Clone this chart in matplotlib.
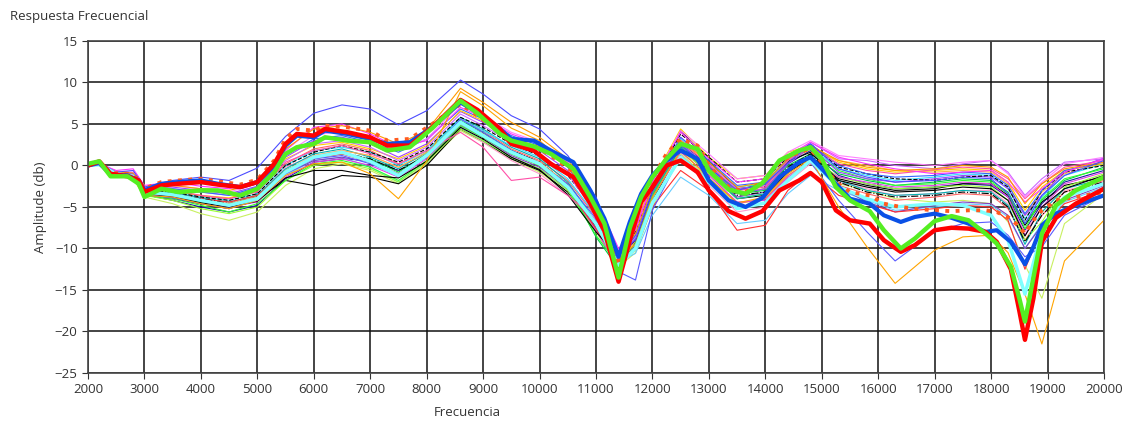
import matplotlib
matplotlib.use('Agg')
import matplotlib.pyplot as plt

plt.rcParams['font.family'] = ['Open Sans', 'DejaVu Sans']

# frequency grid used by the thin traces
freq = [2000, 2200, 2500, 2800, 3000, 3500, 4000, 4500, 5000, 5500,
        6000, 6500, 7000, 7500, 8000, 8600, 9000, 9500, 10000, 10500,
        11000, 11400, 11700, 12000, 12500, 13000, 13500, 14000, 14400, 14800,
        15300, 15800, 16300, 17000, 17500, 18000, 18300, 18600, 18900, 19300, 20000]

thin_blue1 = [0.0, 0.3, -0.8, -0.6, -2.6, -1.8, -1.4, -1.8, -0.3, 3.5, 6.3, 7.3, 6.8, 4.9, 6.6, 10.3, 8.6, 6.0, 4.4, 1.2,
              -3.8, -10.5, -9.0, -3.2, 2.4, -0.2, -3.0, -2.2, 0.3, 2.6, -0.4, -1.4, -2.0, -1.8, -1.4, -1.6, -3.4, -7.0, -3.6, -1.2, 0.6]
thin_orange1 = [0.0, 0.1, -1.2, -1.5, -3.6, -3.8, -4.6, -5.2, -4.2, -1.2, 0.2, 0.4, -1.0, -4.0, 0.5, 8.9, 7.2, 4.5, 3.0, 0.0,
                -4.8, -11.2, -9.5, -3.8, 1.8, -1.5, -4.5, -3.8, -1.0, 0.8, -5.0, -9.8, -14.2, -10.2, -8.6, -8.4, -10.5, -15.5, -21.5, -11.5, -6.6]
thin_magenta = [0.0, 0.2, -0.6, -0.4, -2.4, -2.0, -2.5, -2.8, -1.8, 1.8, 4.6, 5.0, 3.8, 2.2, 3.0, 7.0, 5.8, 3.8, 2.6, 0.4,
                -4.0, -10.0, -7.8, -2.0, 4.0, 0.8, -2.0, -1.6, 1.2, 2.8, 1.0, 0.2, -0.4, -1.0, -0.8, -0.6, -2.0, -4.4, -2.8, -0.8, 0.8]
thin_cyan = [0.0, 0.1, -1.0, -1.3, -3.2, -3.5, -4.2, -4.8, -4.0, -0.8, 1.0, 1.6, 0.5, -1.2, 1.2, 5.2, 3.6, 1.6, 0.2, -2.6,
             -7.0, -12.0, -10.0, -4.5, 1.0, -2.0, -5.2, -4.5, -1.8, 0.6, -2.6, -4.0, -5.0, -4.6, -4.8, -6.0, -9.0, -15.5, -8.0, -3.8, -2.2]
thin_black1 = [0.0, 0.2, -1.3, -1.2, -3.4, -3.8, -4.5, -5.0, -4.3, -1.5, -0.6, -0.6, -1.2, -1.5, 0.5, 4.6, 3.2, 1.0, -0.5, -3.5,
               -8.0, -11.0, -9.0, -3.0, 4.2, 0.5, -2.8, -2.4, 0.5, 1.6, -1.8, -2.6, -3.2, -3.0, -2.6, -2.8, -4.2, -8.5, -5.0, -2.8, -1.2]
thin_pink = [0.0, 0.2, -0.9, -1.1, -2.9, -3.0, -3.6, -4.0, -3.2, 0.4, 1.8, 2.4, 1.4, 0.2, 1.8, 4.0, 2.2, -1.8, -1.4, -3.6,
             -6.5, -10.4, -7.5, -2.2, 3.0, 0.0, -3.0, -2.6, 0.6, 2.2, 0.2, -0.6, -1.0, -0.5, -0.2, -0.4, -1.6, -4.0, -2.2, -0.2, 0.6]
thin_purple = [0.0, 0.3, -0.7, -0.9, -2.7, -2.6, -3.0, -3.4, -2.5, 1.0, 3.0, 3.4, 2.6, 1.0, 2.6, 6.5, 5.2, 3.2, 1.8, -0.6,
               -5.0, -11.5, -8.8, -2.8, 2.6, -0.2, -3.4, -2.8, 0.2, 2.2, -0.8, -1.6, -2.0, -1.6, -1.2, -1.4, -2.8, -6.0, -3.6, -0.8, 0.9]
thin_lime = [0.0, 0.1, -1.1, -1.4, -3.6, -4.0, -4.8, -5.6, -4.6, -1.8, 0.2, 0.6, -0.2, -1.8, 0.6, 4.8, 3.4, 1.4, 0.0, -2.8,
             -8.4, -12.0, -8.6, -3.4, 2.4, -0.4, -3.0, -2.0, 0.8, 2.0, -0.6, -1.6, -2.4, -2.2, -1.8, -2.0, -3.4, -7.6, -4.0, -1.6, -0.4]
thin_yellowgreen = [0.0, 0.0, -1.3, -1.6, -3.8, -4.6, -5.8, -6.6, -5.6, -2.4, -0.4, 0.2, -0.6, -2.2, 0.2, 4.2, 2.8, 0.8, -0.8, -3.2,
                    -8.0, -12.2, -10.5, -5.0, 1.4, -1.6, -4.6, -4.0, -1.2, 0.4, -2.2, -3.0, -4.0, -4.4, -4.2, -4.6, -6.8, -12.0, -16.0, -7.0, -3.4]
thin_dkblue = [0.0, 0.2, -1.2, -1.3, -3.5, -4.2, -5.0, -5.6, -4.8, -1.6, 0.4, 0.8, 0.6, -0.6, 1.0, 5.0, 3.6, 1.8, 0.4, -2.4,
               -7.4, -11.8, -8.4, -3.0, 2.8, 0.0, -3.4, -2.8, 0.2, 1.8, -1.2, -2.2, -2.8, -2.6, -2.2, -2.4, -3.8, -7.8, -4.6, -2.0, -0.6]
thin_orange2 = [0.0, 0.2, -0.8, -0.9, -2.8, -2.4, -2.8, -3.0, -2.2, 2.0, 4.4, 4.8, 4.0, 2.6, 4.2, 9.3, 7.6, 5.2, 3.4, 0.8,
                -4.4, -10.8, -8.2, -2.6, 3.0, 0.4, -2.6, -2.0, 0.8, 2.4, 0.6, -0.2, -0.6, -0.4, 0.0, -0.2, -1.4, -4.6, -2.2, -0.4, 0.4]
thin_teal = [0.0, 0.1, -1.0, -1.2, -3.1, -3.3, -3.9, -4.4, -3.6, -0.4, 1.4, 2.0, 1.0, -0.4, 1.6, 5.8, 4.4, 2.2, 0.8, -2.0,
             -6.8, -12.6, -9.6, -3.6, 2.2, -0.8, -4.0, -3.4, -0.6, 1.2, -1.8, -3.0, -3.6, -3.4, -3.0, -3.2, -4.8, -9.5, -5.6, -2.8, -1.6]
thin_red = [0.0, 0.2, -1.1, -1.2, -3.2, -3.4, -4.0, -4.4, -3.6, -0.8, 0.8, 1.4, 0.4, -1.0, 1.0, 5.2, 3.8, 1.6, 0.0, -2.8,
            -7.6, -11.8, -10.2, -5.0, -0.6, -3.0, -7.8, -7.2, -3.0, -0.8, -3.6, -4.6, -5.6, -5.2, -4.8, -5.0, -6.6, -12.5, -7.5, -4.6, -3.0]
thin_blue2 = [0.0, 0.1, -1.2, -1.5, -3.5, -3.9, -4.6, -5.2, -4.2, -1.0, 0.8, 1.2, 0.2, -1.2, 1.0, 5.6, 4.0, 1.8, 0.2, -2.2,
              -6.4, -12.8, -13.8, -5.4, 1.2, -1.8, -5.0, -4.6, -1.6, 0.4, -4.2, -8.0, -11.5, -8.0, -7.0, -6.8, -8.4, -11.0, -9.8, -6.0, -3.6]
thin_black2 = [0.0, 0.3, -0.9, -1.0, -2.9, -3.2, -3.8, -4.2, -3.4, 0.0, 1.6, 2.4, 1.6, 0.4, 2.0, 5.8, 4.6, 2.6, 1.2, -1.2,
               -5.4, -11.0, -8.0, -2.4, 3.8, 1.0, -2.0, -1.6, 1.0, 2.6, -0.2, -1.0, -1.6, -1.8, -1.4, -1.2, -2.6, -6.6, -3.0, -0.8, 0.0]
thin_violet = [0.0, 0.2, -0.8, -1.0, -2.8, -2.8, -3.2, -3.6, -2.8, 0.6, 2.6, 3.0, 2.2, 0.6, 2.2, 6.2, 4.8, 2.8, 1.4, -1.0,
               -5.8, -11.2, -8.6, -2.4, 3.4, 0.2, -2.8, -2.4, 0.6, 2.8, 0.8, 0.6, 0.0, -0.4, 0.2, 0.6, -0.8, -3.6, -1.6, 0.4, 0.8]
thin_skyblue = [0.0, 0.1, -1.0, -1.4, -3.4, -3.6, -4.4, -5.0, -4.2, -1.2, 0.6, 1.0, -0.2, -2.0, 0.4, 4.6, 3.0, 1.0, -0.4, -3.0,
                -7.8, -11.6, -10.6, -6.0, -1.4, -3.6, -7.0, -6.6, -3.4, -1.2, -3.0, -4.2, -5.4, -5.0, -4.6, -4.8, -6.2, -10.0, -7.0, -4.4, -2.6]
thin_salmon = [0.0, 0.2, -1.0, -1.1, -3.0, -3.2, -3.7, -4.0, -3.1, 0.2, 2.0, 2.6, 1.8, 0.2, 1.8, 5.6, 4.2, 2.0, 0.6, -1.8,
               -6.2, -11.4, -9.0, -3.2, 2.0, -1.0, -4.6, -4.0, -1.2, 0.6, -2.4, -3.4, -4.2, -3.8, -3.4, -3.6, -5.2, -9.0, -6.0, -3.2, -1.8]
thin_gold = [0.0, 0.1, -0.9, -1.1, -3.0, -3.1, -3.6, -3.9, -3.0, 0.8, 2.4, 2.8, 2.0, 0.8, 2.4, 6.6, 5.4, 3.4, 2.2, -0.2,
             -4.6, -10.4, -7.2, -1.8, 4.4, 1.0, -1.6, -1.2, 1.6, 2.4, 0.4, -0.4, -0.8, -0.6, -0.4, -0.6, -2.0, -5.4, -2.6, -0.6, 0.2]
thin_green2 = [0.0, 0.2, -1.1, -1.3, -3.3, -3.6, -4.4, -4.8, -3.8, -0.6, 1.0, 1.4, 0.8, -0.8, 1.4, 5.4, 4.0, 1.8, 0.2, -2.4,
               -8.6, -12.4, -9.2, -3.6, 2.6, -0.4, -3.4, -3.0, 0.0, 1.4, -1.0, -1.8, -2.4, -2.0, -1.6, -1.8, -3.2, -7.0, -4.2, -1.8, -0.2]
thin_black3 = [0.0, 0.2, -1.2, -1.4, -3.6, -4.0, -4.6, -5.2, -4.0, -1.8, -2.4, -1.2, -1.4, -2.2, 0.0, 4.4, 3.0, 0.8, -0.6, -3.2,
               -7.2, -11.6, -9.8, -4.2, 2.0, -0.8, -4.0, -3.6, -0.8, 0.8, -1.6, -2.4, -3.0, -2.8, -2.2, -2.2, -3.6, -7.2, -4.4, -2.4, -1.4]
thin_rose = [0.0, 0.1, -1.0, -1.2, -3.1, -3.4, -3.8, -4.6, -3.6, -0.2, 1.2, 1.8, 1.2, -0.2, 1.4, 4.4, 2.8, 0.6, -1.0, -3.6,
             -7.0, -11.0, -9.6, -4.4, 0.8, -2.4, -5.6, -5.0, -2.0, 0.2, -2.0, -2.8, -3.6, -3.4, -3.0, -3.0, -4.6, -8.0, -5.0, -3.0, -2.0]
thin_blue3 = [0.0, 0.2, -1.0, -1.0, -3.0, -2.8, -3.2, -3.6, -2.6, 1.2, 3.2, 3.6, 2.8, 1.6, 3.2, 6.8, 5.6, 3.6, 2.4, -0.2,
              -4.6, -11.0, -8.4, -2.6, 3.4, 0.6, -2.4, -2.0, 0.8, 2.6, 0.0, -1.0, -1.4, -1.2, -0.8, -1.0, -2.4, -5.8, -3.0, -0.6, 0.4]
thin_orange3 = [0.0, 0.1, -1.1, -1.2, -3.2, -3.6, -4.2, -4.6, -3.8, -0.6, 1.2, 1.8, 1.2, -0.2, 1.6, 5.0, 3.8, 1.6, 0.4, -2.2,
                -7.2, -12.2, -9.0, -3.2, 2.8, 0.2, -3.2, -2.8, 0.4, 2.0, 0.6, 0.0, -0.6, -0.8, -0.6, -0.8, -2.2, -6.0, -3.2, -1.0, 0.2]
thin_magenta2 = [0.0, 0.2, -1.0, -1.2, -3.2, -3.8, -4.4, -5.0, -4.4, -1.4, 0.4, 0.8, 0.0, -1.4, 0.8, 4.8, 3.6, 1.4, 0.0, -2.6,
                 -7.8, -12.4, -9.4, -3.8, 1.6, -1.2, -4.4, -4.2, -1.4, 0.4, -1.4, -2.0, -2.6, -2.4, -2.0, -2.2, -3.8, -8.4, -5.0, -2.2, -0.8]
thin_black4 = [0.0, 0.2, -1.0, -1.1, -3.1, -3.4, -4.0, -4.6, -3.8, -0.6, 1.0, 1.6, 0.8, -0.6, 1.2, 5.2, 3.8, 1.8, 0.4, -2.2,
               -7.0, -11.6, -8.8, -3.2, 2.4, -0.6, -3.6, -3.2, -0.2, 1.4, -2.0, -3.2, -3.8, -3.6, -3.2, -3.4, -5.0, -9.2, -6.0, -3.2, -2.0]
thin_cyan2 = [0.0, 0.2, -0.9, -1.1, -3.0, -3.2, -3.8, -4.2, -3.4, 0.0, 1.8, 2.2, 1.6, 0.0, 1.8, 5.6, 4.2, 2.4, 1.0, -1.6,
              -6.0, -11.0, -8.2, -2.8, 3.2, 0.4, -2.6, -2.2, 0.6, 2.2, -0.4, -1.2, -1.8, -1.4, -1.0, -1.2, -2.8, -6.4, -3.8, -1.2, 0.2]
thin_green3 = [0.0, 0.1, -1.2, -1.5, -3.6, -4.2, -5.2, -5.8, -5.0, -1.8, 0.0, 0.4, -0.4, -2.0, 0.4, 4.4, 3.0, 1.0, -0.4, -3.0,
               -7.8, -12.0, -9.8, -4.0, 2.0, -1.0, -4.0, -3.4, -0.4, 1.0, -1.4, -2.2, -2.8, -2.6, -2.4, -2.6, -4.2, -9.0, -6.8, -2.6, -1.0]
thin_purple2 = [0.0, 0.2, -1.1, -1.3, -3.4, -3.8, -4.4, -5.0, -4.2, -1.0, 0.6, 1.0, 0.4, -1.0, 1.0, 4.8, 3.4, 1.2, -0.2, -2.8,
                -7.6, -12.0, -9.4, -3.6, 2.2, -0.6, -3.8, -3.2, -0.6, 1.0, -2.6, -4.4, -5.6, -4.8, -4.4, -4.6, -6.0, -10.0, -7.2, -4.2, -2.4]
thin_pink2 = [0.0, 0.3, -0.7, -0.8, -2.6, -2.4, -2.8, -3.2, -2.2, 1.4, 3.6, 4.2, 3.4, 1.8, 3.2, 7.4, 6.0, 4.0, 2.8, 0.2,
              -4.4, -10.2, -7.6, -2.0, 4.2, 1.4, -1.6, -1.2, 1.6, 3.0, 1.2, 0.8, 0.4, 0.0, 0.4, 0.6, -1.0, -3.8, -2.0, 0.2, 1.0]

# finer grid for the highlighted traces
thick_freq = [2000, 2200, 2400, 2700, 2900, 3000, 3300, 3600, 4000, 4300,
              4700, 5000, 5300, 5500, 5700, 6000, 6200, 6600, 7000, 7300,
              7700, 8100, 8600, 8900, 9300, 9500, 9900, 10200, 10600, 10900,
              11150, 11400, 11600, 11800, 12000, 12250, 12500, 12800, 13000, 13350,
              13650, 13950, 14250, 14600, 14800, 15000, 15250, 15500, 15850, 16100,
              16400, 16650, 17000, 17300, 17600, 17900, 18100, 18350, 18500, 18600,
              18750, 18900, 19150, 19500, 20000]

orange_db = [0.0, 0.4, -0.9, -1.0, -1.6, -2.8, -2.0, -1.8, -1.6, -1.9,
             -2.3, -1.7, 0.6, 3.2, 4.4, 4.2, 4.8, 4.6, 4.2, 3.0,
             3.2, 5.0, 7.4, 6.0, 4.0, 2.6, 2.4, 1.2, -0.8, -4.0,
             -7.2, -12.0, -8.0, -3.8, -1.6, 1.4, 3.2, 2.4, 0.0, -2.6,
             -3.2, -2.0, 0.4, 1.6, 2.0, 0.4, -2.0, -3.2, -3.6, -4.6,
             -5.0, -5.2, -5.4, -5.5, -5.4, -5.4, -5.6, -6.4, -7.4, -8.2,
             -6.6, -5.4, -4.2, -3.8, -3.2]
blue_db = [0.0, 0.3, -1.1, -1.2, -1.8, -3.0, -2.2, -2.0, -1.8, -2.2,
           -2.6, -2.0, 0.0, 2.4, 3.6, 3.4, 4.2, 3.8, 3.2, 2.6,
           2.8, 4.6, 7.6, 6.4, 4.4, 3.2, 3.0, 1.8, 0.4, -3.0,
           -6.4, -11.0, -6.8, -3.4, -1.2, 0.6, 1.8, 0.8, -1.8, -4.2,
           -5.0, -3.9, -1.4, 0.4, 1.0, -0.4, -2.2, -4.0, -4.6, -6.0,
           -6.8, -6.2, -5.8, -6.3, -7.0, -8.0, -7.8, -9.2, -10.8, -11.9,
           -9.8, -7.2, -5.8, -4.8, -3.6]
red_db = [0.0, 0.5, -1.0, -1.3, -1.8, -3.2, -2.4, -2.2, -2.0, -2.3,
          -2.6, -2.0, 0.2, 2.6, 3.8, 3.6, 4.4, 4.0, 3.4, 2.4,
          2.4, 4.6, 7.9, 6.7, 4.4, 2.6, 1.8, 0.2, -1.4, -4.6,
          -7.9, -14.0, -9.0, -4.4, -2.6, 0.0, 0.6, -0.8, -3.0, -5.5,
          -6.4, -5.5, -3.0, -1.8, -0.9, -2.0, -5.4, -6.6, -7.0, -9.0,
          -10.4, -9.6, -7.8, -7.5, -7.6, -8.0, -9.2, -12.5, -17.5, -21.0,
          -16.0, -9.2, -6.3, -4.6, -2.8]
green_db = [0.2, 0.5, -1.3, -1.3, -2.2, -3.8, -2.8, -3.2, -3.0, -3.0,
            -3.6, -2.8, -0.8, 1.4, 2.2, 2.6, 3.4, 3.0, 2.8, 1.8,
            2.2, 4.5, 7.8, 6.3, 3.8, 3.0, 2.3, 1.4, -0.4, -3.8,
            -7.0, -13.5, -7.5, -3.8, -1.4, 0.8, 2.6, 2.0, -0.6, -2.9,
            -3.4, -2.1, 0.6, 1.8, 2.2, 0.8, -2.6, -4.2, -5.5, -7.8,
            -10.0, -8.8, -6.7, -6.1, -6.6, -8.2, -9.4, -12.2, -16.0, -18.8,
            -13.5, -8.2, -4.8, -3.0, -1.4]

thin_traces = [
    (thin_yellowgreen, '#c8f060', '-'), (thin_dkblue, '#1a1aa0', '-'), (thin_rose, '#ff99cc', '-'),
    (thin_black3, 'black', '-'), (thin_skyblue, '#66ccff', '-'), (thin_salmon, '#ff6666', '-'),
    (thin_green3, '#99ff33', '-'), (thin_purple2, '#8040c0', '-'), (thin_magenta2, '#e040e0', '-'),
    (thin_green2, '#00cc44', '-'), (thin_teal, '#00b3b3', '-'), (thin_red, '#ff3030', '-'),
    (thin_black4, 'black', '-.'), (thin_orange3, '#ffb347', '-'), (thin_cyan2, '#33ddff', '-'),
    (thin_lime, '#33ff33', '-'), (thin_black1, 'black', '-'), (thin_purple, '#a040ff', '-'),
    (thin_gold, '#ffcc00', '-'), (thin_black2, 'black', '--'), (thin_violet, '#cc66ff', '-'),
    (thin_blue3, '#3366ff', '-'), (thin_pink2, '#ff80ff', '-'),
    (thin_pink, '#ff4fa8', '-'), (thin_magenta, '#ff33ff', '-'), (thin_orange2, '#ff9900', '-'),
    (thin_blue2, '#5a5aff', '-'), (thin_orange1, '#ffa500', '-'), (thin_blue1, '#4b4bff', '-'),
]

fig = plt.figure(figsize=(11.28, 4.24), dpi=100)
ax = fig.add_axes([0.078, 0.1203, 0.9007, 0.783])

for vals, col, ls in thin_traces:
    ax.plot(freq, vals, color=col, lw=0.8, ls=ls)
ax.plot(freq, thin_cyan, color='#7fffff', lw=2.5)

ax.plot(thick_freq, orange_db, color='#ff5a1f', lw=2.8, ls=':')
ax.plot(thick_freq, blue_db, color='#0a50e6', lw=3.0)
ax.plot(thick_freq, red_db, color='#ff0000', lw=3.2)
ax.plot(thick_freq, green_db, color='#55ee22', lw=3.2)

ax.set_xlim(2000, 20000)
ax.set_ylim(-25, 15)
ax.set_xticks(range(2000, 20001, 1000))
ax.set_yticks(range(-25, 16, 5))
ax.grid(True, color='#111111', lw=1.1)
ax.set_axisbelow(True)
ax.tick_params(labelsize=9.5, colors='#333333', length=4, width=0.8)
for s in ax.spines.values():
    s.set_color('#444444')
    s.set_linewidth(1.2)

fig.text(0.009, 0.962, 'Respuesta Frecuencial', fontsize=9.5, color='#333333', va='center')
fig.text(0.036, 0.512, 'Amplitude (db)', fontsize=9.5, color='#333333', rotation=90, va='center', ha='center')
fig.text(0.414, 0.028, 'Frecuencia', fontsize=9.5, color='#333333', va='center', ha='center')

fig.savefig('out.png', dpi=100)
